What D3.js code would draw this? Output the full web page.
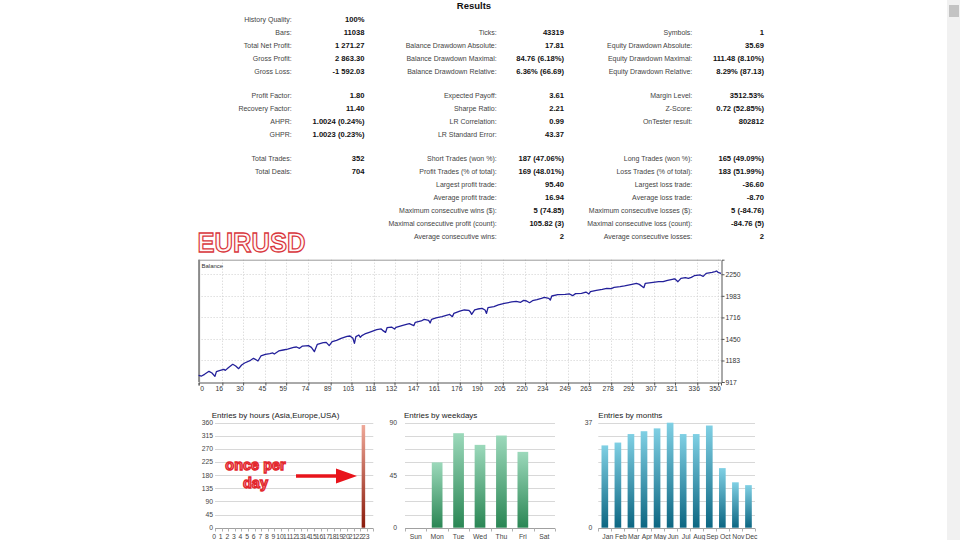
<!DOCTYPE html>
<html><head><meta charset="utf-8">
<script src="https://cdn.jsdelivr.net/npm/d3@7"></script>
<style>body{margin:0;background:#fff;overflow:hidden}svg{display:block}</style>
</head><body><svg id="c" width="960" height="540"></svg>
<script>
// ---------------- DATA ----------------
const statsCol1 = [
  [0,"History Quality:","100%"],[1,"Bars:","11038"],[2,"Total Net Profit:","1 271.27"],
  [3,"Gross Profit:","2 863.30"],[4,"Gross Loss:","-1 592.03"],
  [6,"Profit Factor:","1.80"],[7,"Recovery Factor:","11.40"],[8,"AHPR:","1.0024 (0.24%)"],[9,"GHPR:","1.0023 (0.23%)"],
  [11,"Total Trades:","352"],[12,"Total Deals:","704"]
];
const statsCol2 = [
  [1,"Ticks:","43319"],[2,"Balance Drawdown Absolute:","17.81"],[3,"Balance Drawdown Maximal:","84.76 (6.18%)"],
  [4,"Balance Drawdown Relative:","6.36% (66.69)"],
  [6,"Expected Payoff:","3.61"],[7,"Sharpe Ratio:","2.21"],[8,"LR Correlation:","0.99"],[9,"LR Standard Error:","43.37"],
  [11,"Short Trades (won %):","187 (47.06%)"],[12,"Profit Trades (% of total):","169 (48.01%)"],
  [13,"Largest profit trade:","95.40"],[14,"Average profit trade:","16.94"],
  [15,"Maximum consecutive wins ($):","5 (74.85)"],[16,"Maximal consecutive profit (count):","105.82 (3)"],
  [17,"Average consecutive wins:","2"]
];
const statsCol3 = [
  [1,"Symbols:","1"],[2,"Equity Drawdown Absolute:","35.69"],[3,"Equity Drawdown Maximal:","111.48 (8.10%)"],
  [4,"Equity Drawdown Relative:","8.29% (87.13)"],
  [6,"Margin Level:","3512.53%"],[7,"Z-Score:","0.72 (52.85%)"],[8,"OnTester result:","802812"],
  [11,"Long Trades (won %):","165 (49.09%)"],[12,"Loss Trades (% of total):","183 (51.99%)"],
  [13,"Largest loss trade:","-36.60"],[14,"Average loss trade:","-8.70"],
  [15,"Maximum consecutive losses ($):","5 (-84.76)"],[16,"Maximal consecutive loss (count):","-84.76 (5)"],
  [17,"Average consecutive losses:","2"]
];

const balancePoints = [
 [0,1000],[2,991],[4,1012],[7,1049],[9,1028],[11,987],[12,1045],[14,1057],[17,1074],[18,1061],[20,1094],
 [23,1136],[25,1115],[27,1082],[29,1127],[31,1152],[35,1185],[37,1210],[39,1189],[40,1177],[42,1239],
 [45,1259],[48,1268],[50,1276],[51,1263],[54,1301],[57,1313],[60,1325],[64,1346],[66,1350],[68,1334],
 [70,1362],[74,1367],[76,1346],[78,1292],[80,1383],[84,1404],[86,1408],[88,1367],[90,1416],[93,1433],
 [96,1457],[100,1482],[102,1486],[104,1457],[105,1395],[106,1478],[108,1498],[109,1470],[110,1490],
 [112,1511],[115,1531],[120,1564],[123,1573],[124,1556],[126,1531],[127,1589],[130,1597],[132,1573],
 [133,1593],[137,1614],[140,1630],[142,1639],[145,1614],[146,1655],[150,1672],[152,1692],[155,1680],
 [156,1647],[157,1692],[160,1709],[164,1725],[168,1746],[169,1754],[171,1725],[172,1766],[176,1795],
 [179,1808],[182,1804],[183,1787],[184,1754],[186,1808],[188,1820],[191,1828],[193,1808],[194,1766],
 [195,1837],[199,1849],[202,1870],[206,1890],[211,1907],[214,1915],[217,1903],[219,1927],[221,1919],
 [223,1898],[225,1923],[228,1936],[231,1952],[233,1964],[236,1952],[237,1931],[238,1981],[242,1997],
 [247,2001],[250,2006],[252,1985],[254,2010],[258,2014],[261,2030],[263,2006],[264,2035],[268,2051],
 [272,2063],[275,2076],[278,2072],[280,2088],[284,2096],[287,2105],[292,2125],[295,2138],[297,2125],
 [300,2084],[301,2138],[305,2146],[310,2158],[313,2158],[316,2175],[320,2191],[321,2191],[323,2158],
 [325,2199],[328,2208],[330,2199],[332,2212],[334,2232],[338,2241],[340,2224],[342,2261],[346,2274],
 [348,2282],[349,2290],[350,2274],[352,2262]
];
const balanceXTicks = [0,16,30,45,59,74,89,103,118,132,147,161,176,190,205,220,234,249,263,278,292,307,321,336,350];
const balanceYTicks = [917,1183,1450,1716,1983,2250];

const hourLabels = ["0","1","2","3","4","5","6","7","8","9","10","11","12","13","14","15","16","17","18","19","20","21","22","23"];
const hourEntries = [0,0,0,0,0,0,0,0,0,0,0,0,0,0,0,0,0,0,0,0,0,0,352,0];
const hourTicks = [0,45,90,135,180,225,270,315,360];

const weekdayLabels = ["Sun","Mon","Tue","Wed","Thu","Fri","Sat"];
const weekdayEntries = [0,56,81,71,79,65,0];
const weekdayTicks = [0,45,90];

const monthLabels = ["Jan","Feb","Mar","Apr","May","Jun","Jul","Aug","Sep","Oct","Nov","Dec"];
const monthEntries = [29,30,33,34,35,37,33,33,36,21,16,15];
const monthTicks = [0,37];

// ---------------- DRAW ----------------
const svg = d3.select("#c");
const defs = svg.append("defs");
function grad(id, top, bottom){
  const lg = defs.append("linearGradient").attr("id", id).attr("x1",0).attr("y1",0).attr("x2",0).attr("y2",1);
  lg.append("stop").attr("offset","0%").attr("stop-color", top);
  lg.append("stop").attr("offset","100%").attr("stop-color", bottom);
}
grad("gHours", "#efa898", "#8a1a0b");
grad("gDays", "#9cd9bb", "#2a8654");
grad("gMonths", "#80d0e4", "#0c6682");

const FONT = "'Liberation Sans', Arial, sans-serif";

// scrollbar
svg.append("rect").attr("x",947).attr("y",0).attr("width",13).attr("height",540).attr("fill","#f1f1f1");
svg.append("rect").attr("x",949).attr("y",5).attr("width",10).attr("height",12).attr("fill","#c3c3c3");

// Title
svg.append("text").attr("x",474).attr("y",9).attr("text-anchor","middle")
  .attr("font-family",FONT).attr("font-weight","bold").attr("font-size",9.5).attr("fill","#111").text("Results");

// Stats table
function rowY(i){ const g = i>=11?2:(i>=6?1:0); return 19.3 + 13*i - 2*g + 2.5; }
function statCol(rows, lx, vx){
  const g = svg.append("g").attr("font-family",FONT);
  g.selectAll("text.l").data(rows).join("text").attr("class","l")
    .attr("x",lx).attr("y",d=>rowY(d[0])).attr("text-anchor","end")
    .attr("font-size",7).attr("fill","#444").text(d=>d[1]);
  g.selectAll("text.v").data(rows).join("text").attr("class","v")
    .attr("x",vx).attr("y",d=>rowY(d[0])).attr("text-anchor","end")
    .attr("font-size",7.6).attr("font-weight","bold").attr("fill","#111").text(d=>d[2]);
}
statCol(statsCol1, 291.7, 364.5);
statCol(statsCol2, 496.7, 564);
statCol(statsCol3, 692.3, 764);

// EURUSD label
svg.append("text").attr("x",197.5).attr("y",252.3)
  .attr("font-family",FONT).attr("font-weight","bold").attr("font-size",28)
  .attr("textLength",108).attr("lengthAdjust","spacingAndGlyphs")
  .attr("fill","#fff6f6").attr("stroke","#d9363c").attr("stroke-width",1.3).text("EURUSD");

// Balance chart
const bL=198.6, bR=721, bT=259.7, bB=382;
const bx = d3.scaleLinear().domain([0,352]).range([bL,bR]);
const by = d3.scaleLinear().domain([917,2430]).range([bB,bT]);
const bal = svg.append("g");
bal.append("rect").attr("x",bL).attr("y",bT).attr("width",bR-bL).attr("height",bB-bT).attr("fill","#fff");
bal.selectAll("line.gx").data(balanceXTicks.slice(1)).join("line")
  .attr("x1",d=>Math.round(bx(d))+0.5).attr("x2",d=>Math.round(bx(d))+0.5).attr("y1",bT).attr("y2",bB)
  .attr("stroke","#cfcfcf").attr("stroke-dasharray","1,2");
bal.selectAll("line.gy").data(balanceYTicks.slice(1)).join("line")
  .attr("y1",d=>Math.round(by(d))+0.5).attr("y2",d=>Math.round(by(d))+0.5).attr("x1",bL).attr("x2",bR)
  .attr("stroke","#cfcfcf").attr("stroke-dasharray","1,2");
bal.append("line").attr("x1",bL).attr("x2",bR).attr("y1",bT+0.5).attr("y2",bT+0.5).attr("stroke","#9a9a9a");
bal.append("line").attr("x1",bL+0.5).attr("x2",bL+0.5).attr("y1",bT).attr("y2",bB).attr("stroke","#8a8a8a").attr("stroke-width",2);
const yAxis = d3.axisRight(by).tickValues(balanceYTicks).tickSize(3).tickFormat(d3.format("d"));
const ya = bal.append("g").attr("transform",`translate(${bR+0.5},0)`).call(yAxis);
ya.select(".domain").attr("stroke","#555");
ya.selectAll(".tick line").attr("stroke","#555");
ya.selectAll("text").attr("font-family",FONT).attr("font-size",6.8).attr("fill","#333").attr("x",4);
const xAxis = d3.axisBottom(bx).tickValues(balanceXTicks).tickSize(3).tickFormat(d3.format("d"));
const xa = bal.append("g").attr("transform",`translate(0,${bB+0.5})`).call(xAxis);
xa.select(".domain").attr("stroke","#555");
xa.selectAll(".tick line").attr("stroke","#555");
xa.selectAll("text").attr("font-family",FONT).attr("font-size",6.8).attr("fill","#333")
  .attr("dx",d=> d===0 ? 3 : -3.5).attr("y",4);
bal.append("text").attr("x",201.5).attr("y",268).attr("font-family",FONT).attr("font-size",6)
  .attr("fill","#333").text("Balance");
const line = d3.line().x(d=>bx(d[0])).y(d=>by(d[1]));
bal.append("path").datum(balancePoints).attr("d",line).attr("fill","none")
  .attr("stroke","#23209a").attr("stroke-width",1.3).attr("stroke-linejoin","round");

// Bar charts
function barChart(o){
  const g = svg.append("g").attr("font-family",FONT);
  const x = d3.scaleBand().domain(o.labels).range([o.x0,o.x1]).paddingInner(o.pad).paddingOuter(o.pad/2);
  const y = d3.scaleLinear().domain([0,o.max]).range([o.yb,o.yt]);
  const gridVals = d3.range(o.gridN+1).map(i=>o.max*i/o.gridN);
  g.selectAll("line.grid").data(gridVals).join("line")
    .attr("x1",o.x0).attr("x2",o.x1)
    .attr("y1",d=>Math.round(y(d))+0.5).attr("y2",d=>Math.round(y(d))+0.5)
    .attr("stroke",d=>d===0?"#a0a0a0":"#d8d8d8");
  const step = x.step();
  g.selectAll("line.bt").data(d3.range(o.labels.length+1)).join("line")
    .attr("x1",i=>Math.round(o.x0+i*step)+0.5).attr("x2",i=>Math.round(o.x0+i*step)+0.5)
    .attr("y1",Math.round(o.yb)+0.5).attr("y2",Math.round(o.yb)+3.5).attr("stroke","#b0b0b0");
  g.selectAll("rect.bar").data(o.values.map((v,i)=>[o.labels[i],v])).join("rect")
    .attr("x",d=>x(d[0])).attr("width",x.bandwidth())
    .attr("y",d=>y(d[1])).attr("height",d=>o.yb-y(d[1]))
    .attr("fill",`url(#${o.grad})`);
  g.selectAll("text.yl").data(o.ticks).join("text")
    .attr("x",o.ylx).attr("y",d=>y(d)+2.4).attr("text-anchor","end")
    .attr("font-size",6.8).attr("fill","#444").text(d=>d);
  g.selectAll("text.xl").data(o.labels).join("text")
    .attr("x",d=>x(d)+x.bandwidth()/2+o.ldx).attr("y",o.yb+11).attr("text-anchor","middle")
    .attr("font-size",6.8).attr("fill","#444").text(d=>d);
  g.append("text").attr("x",o.tx).attr("y",o.yt-4.5).attr("font-size",8).attr("fill","#222").text(o.title);
  return {x,y};
}
barChart({labels:hourLabels, values:hourEntries, ticks:hourTicks, max:360, gridN:8,
  x0:215, x1:373.3, yt:422.7, yb:527.7, pad:0.47, grad:"gHours", ylx:213, ldx:-4.2,
  title:"Entries by hours (Asia,Europe,USA)", tx:211.7});
barChart({labels:weekdayLabels, values:weekdayEntries, ticks:weekdayTicks, max:90, gridN:8,
  x0:405, x1:555, yt:422.7, yb:527.7, pad:0.5, grad:"gDays", ylx:397, ldx:0,
  title:"Entries by weekdays", tx:404});
barChart({labels:monthLabels, values:monthEntries, ticks:monthTicks, max:37, gridN:8,
  x0:598.3, x1:755, yt:422.7, yb:527.7, pad:0.49, grad:"gMonths", ylx:592.3, ldx:3,
  title:"Entries by months", tx:598.3});

// annotation "once per day" with arrow
const ann = svg.append("g").attr("font-family",FONT).attr("font-weight","bold").attr("font-size",14.5)
  .attr("text-anchor","middle").attr("fill","#f19a9d").attr("stroke","#e3262d").attr("stroke-width",1.3);
ann.append("text").attr("x",255.5).attr("y",470).text("once per");
ann.append("text").attr("x",255.5).attr("y",487.5).text("day");
svg.append("path").attr("d","M296,474.3 L336,474.3 L336,468.5 L357,476 L336,483.5 L336,477.7 L296,477.7 Z")
  .attr("fill","#e8141b");
</script></body></html>
